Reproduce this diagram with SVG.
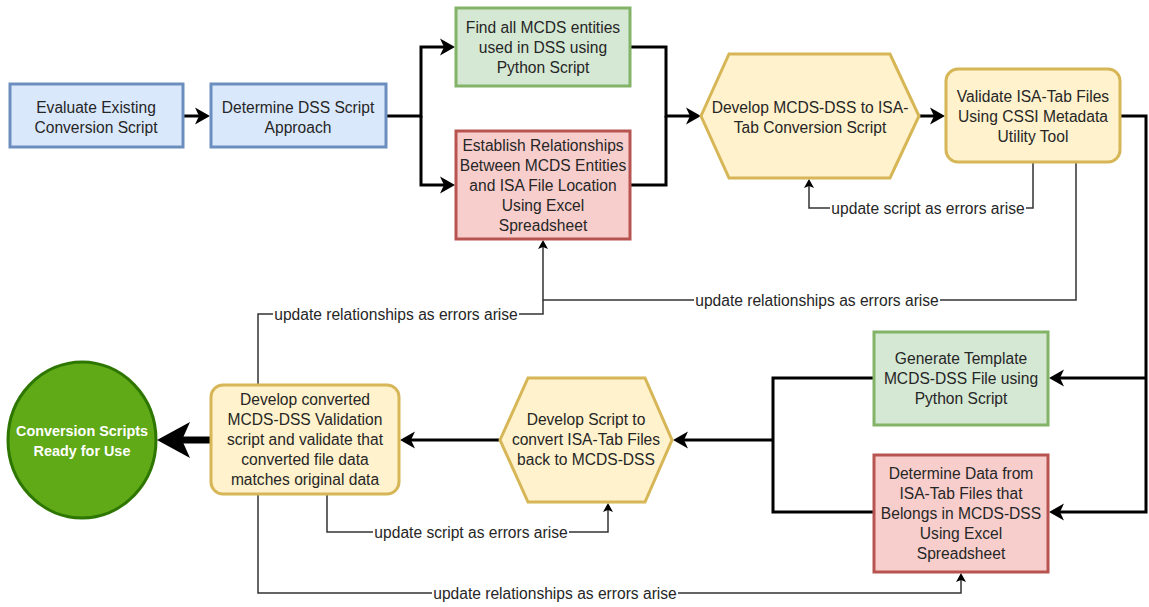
<svg xmlns="http://www.w3.org/2000/svg" width="1149" height="607" viewBox="0 0 1149 607">
<style>
.t{font-family:"Liberation Sans",Arial,sans-serif;font-size:15.6px;fill:#262626;text-anchor:middle}
.w{font-family:"Liberation Sans",Arial,sans-serif;font-size:14.4px;font-weight:bold;fill:#fff;text-anchor:middle}
.blue{fill:#dae8fc;stroke:#6c8ebf;stroke-width:3}
.green{fill:#d5e8d4;stroke:#82b366;stroke-width:3}
.red{fill:#f8cecc;stroke:#b85450;stroke-width:3}
.yel{fill:#fff2cc;stroke:#d6b656;stroke-width:3}
.main{fill:none;stroke:#000;stroke-width:3}
.fb{fill:none;stroke:#333;stroke-width:1.5}
.lbg{fill:#fff}
</style>
<defs>
<marker id="a" markerUnits="userSpaceOnUse" orient="auto" refX="4" refY="0" markerWidth="16" markerHeight="18" overflow="visible"><path d="M0,-8.5 L15,0 L0,8.5 L4,0 Z" fill="#000"/></marker>
<marker id="s" markerUnits="userSpaceOnUse" orient="auto" refX="2" refY="0" markerWidth="10" markerHeight="11" overflow="visible"><path d="M0,-5 L9,0 L0,5 L2,0 Z" fill="#000"/></marker>
<marker id="b" markerUnits="userSpaceOnUse" orient="auto" refX="8" refY="0" markerWidth="34" markerHeight="38" overflow="visible"><path d="M0,-18 L33,0 L0,18 L8,0 Z" fill="#000"/></marker>
</defs>
<g id="connectors">
<path class="main" d="M184,116 H199" marker-end="url(#a)"/>
<path class="main" d="M387,116 H421 V47 H444" marker-end="url(#a)"/>
<path class="main" d="M421,116 V185 H444" marker-end="url(#a)"/>
<path class="main" d="M631,47 H666 V116 H690" marker-end="url(#a)"/>
<path class="main" d="M631,185 H666 V116"/>
<path class="main" d="M919,116 H934" marker-end="url(#a)"/>
<path class="main" d="M1121,116 H1146 V512 H1060" marker-end="url(#a)"/>
<path class="main" d="M1146,378 H1060" marker-end="url(#a)"/>
<path class="main" d="M873,378 H773 V512 H873"/>
<path class="main" d="M773,440 H684" marker-end="url(#a)"/>
<path class="main" d="M499,440 H411" marker-end="url(#a)"/>
<path fill="none" stroke="#000" stroke-width="7" d="M210,440 H182" marker-end="url(#b)"/>
<path class="fb" d="M1033,163 V208 H809 V186" marker-end="url(#s)"/>
<path class="fb" d="M1076,163 V300 H543 V247" marker-end="url(#s)"/>
<path class="fb" d="M258,384 V314 H543 V300"/>
<path class="fb" d="M327,495 V532 H608 V510" marker-end="url(#s)"/>
<path class="fb" d="M258,495 V593 H961 V580" marker-end="url(#s)"/>
<rect class="lbg" x="830" y="200" width="196" height="17"/>
<text class="t" x="928" y="213.5">update script as errors arise</text>
<rect class="lbg" x="694" y="292" width="246" height="17"/>
<text class="t" x="817" y="305.5">update relationships as errors arise</text>
<rect class="lbg" x="273" y="306" width="246" height="17"/>
<text class="t" x="396" y="319.5">update relationships as errors arise</text>
<rect class="lbg" x="373" y="524" width="196" height="17"/>
<text class="t" x="471" y="537.5">update script as errors arise</text>
<rect class="lbg" x="432" y="585" width="246" height="17"/>
<text class="t" x="555" y="598.5">update relationships as errors arise</text>
</g>
<g id="n1">
<rect class="blue" x="10" y="84" width="173" height="63"/>
<text class="t" x="96" y="112.5">Evaluate Existing</text>
<text class="t" x="96" y="132.5">Conversion Script</text>
</g>
<g id="n2">
<rect class="blue" x="211" y="84" width="175" height="63"/>
<text class="t" x="298" y="112.5">Determine DSS Script</text>
<text class="t" x="298" y="132.5">Approach</text>
</g>
<g id="n3">
<rect class="green" x="456" y="8" width="174" height="78"/>
<text class="t" x="543" y="32.5">Find all MCDS entities</text>
<text class="t" x="543" y="52.5">used in DSS using</text>
<text class="t" x="543" y="72.5">Python Script</text>
</g>
<g id="n4">
<rect class="red" x="456" y="131" width="174" height="108"/>
<text class="t" x="543" y="150.5">Establish Relationships</text>
<text class="t" x="543" y="170.5">Between MCDS Entities</text>
<text class="t" x="543" y="190.5">and ISA File Location</text>
<text class="t" x="543" y="210.5">Using Excel</text>
<text class="t" x="543" y="230.5">Spreadsheet</text>
</g>
<g id="n5">
<polygon class="yel" points="701,116 729,54 890,54 919,116 890,178 729,178"/>
<text class="t" x="810" y="112.5">Develop MCDS-DSS to ISA-</text>
<text class="t" x="810" y="132.5">Tab Conversion Script</text>
</g>
<g id="n6">
<rect class="yel" x="946" y="69" width="174" height="93" rx="12"/>
<text class="t" x="1033" y="101.5">Validate ISA-Tab Files</text>
<text class="t" x="1033" y="121.5">Using CSSI Metadata</text>
<text class="t" x="1033" y="141.5">Utility Tool</text>
</g>
<g id="n7">
<rect class="green" x="874" y="332" width="174" height="93"/>
<text class="t" x="961" y="363.5">Generate Template</text>
<text class="t" x="961" y="383.5">MCDS-DSS File using</text>
<text class="t" x="961" y="403.5">Python Script</text>
</g>
<g id="n8">
<rect class="red" x="874" y="455" width="174" height="117"/>
<text class="t" x="961" y="478.5">Determine Data from</text>
<text class="t" x="961" y="498.5">ISA-Tab Files that</text>
<text class="t" x="961" y="518.5">Belongs in MCDS-DSS</text>
<text class="t" x="961" y="538.5">Using Excel</text>
<text class="t" x="961" y="558.5">Spreadsheet</text>
</g>
<g id="n9">
<polygon class="yel" points="500,440 528,378 645,378 672,440 645,502 528,502"/>
<text class="t" x="586" y="424.5">Develop Script to</text>
<text class="t" x="586" y="444.5">convert ISA-Tab Files</text>
<text class="t" x="586" y="464.5">back to MCDS-DSS</text>
</g>
<g id="n10">
<rect class="yel" x="211" y="385" width="188" height="109" rx="12"/>
<text class="t" x="305" y="404.5">Develop converted</text>
<text class="t" x="305" y="424.5">MCDS-DSS Validation</text>
<text class="t" x="305" y="444.5">script and validate that</text>
<text class="t" x="305" y="464.5">converted file data</text>
<text class="t" x="305" y="484.5">matches original data</text>
</g>
<g id="n11">
<ellipse cx="82" cy="440" rx="74" ry="78" fill="#60a917" stroke="#2d7600" stroke-width="3"/>
<text class="w" x="82" y="436">Conversion Scripts</text>
<text class="w" x="82" y="455.5">Ready for Use</text>
</g>
</svg>
